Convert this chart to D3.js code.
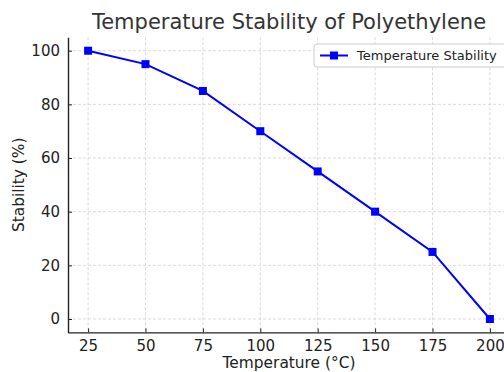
<!DOCTYPE html>
<html><head><meta charset="utf-8">
<script src="https://cdn.jsdelivr.net/npm/d3@7"></script>
<style>body{margin:0;background:#fff}svg{display:block;font-family:"DejaVu Sans",sans-serif}</style>
</head><body><svg id="c" width="504" height="372"></svg>
<script>
const temperatures = [25, 50, 75, 100, 125, 150, 175, 200];
const stability = [100, 95, 85, 70, 55, 40, 25, 0];
const xTicks = [25, 50, 75, 100, 125, 150, 175, 200];
const yTicks = [0, 20, 40, 60, 80, 100];
const seriesName = "Temperature Stability";

const svg = d3.select("#c");
const L = 68, R = 510, T = 37.3, B = 332.4;
const x = d3.scaleLinear().domain([16.25, 208.75]).range([L, R]);
const y = d3.scaleLinear().domain([-5, 105]).range([B, T]);

// grid
svg.append("g").selectAll("line").data(xTicks).join("line")
  .attr("x1", d => x(d)).attr("x2", d => x(d)).attr("y1", T).attr("y2", B)
  .attr("stroke", "#d0d0d0").attr("stroke-width", 0.8).attr("stroke-dasharray", "3,2");
svg.append("g").selectAll("line").data(yTicks).join("line")
  .attr("y1", d => y(d)).attr("y2", d => y(d)).attr("x1", L).attr("x2", R)
  .attr("stroke", "#d0d0d0").attr("stroke-width", 0.8).attr("stroke-dasharray", "3,2");

// axes
const xAxis = svg.append("g").attr("transform", `translate(0,${B})`)
  .call(d3.axisBottom(x).tickValues(xTicks).tickSizeInner(-4).tickSizeOuter(0).tickPadding(8));
const yAxis = svg.append("g").attr("transform", `translate(${L},0)`)
  .call(d3.axisLeft(y).tickValues(yTicks).tickSizeInner(-4).tickSizeOuter(0).tickPadding(8));
[xAxis, yAxis].forEach(g => {
  g.select(".domain").attr("stroke", "#222").attr("stroke-width", 1.4);
  g.selectAll(".tick line").attr("stroke", "#222").attr("stroke-width", 1);
  g.selectAll(".tick text").attr("fill", "#222").attr("font-size", 15).attr("font-family", "DejaVu Sans");
});

// line
svg.append("path").datum(temperatures.map((t, i) => [t, stability[i]]))
  .attr("fill", "none").attr("stroke", "#0000ff").attr("stroke-width", 2)
  .attr("d", d3.line().x(d => x(d[0])).y(d => y(d[1])));
svg.append("g").selectAll("rect").data(temperatures.map((t, i) => [t, stability[i]])).join("rect")
  .attr("x", d => x(d[0]) - 4).attr("y", d => y(d[1]) - 4).attr("width", 8).attr("height", 8)
  .attr("fill", "#0000ff");

// title & labels
svg.append("text").attr("x", (L + R) / 2).attr("y", 29).attr("text-anchor", "middle")
  .attr("font-size", 21).attr("fill", "#333").text("Temperature Stability of Polyethylene");
svg.append("text").attr("x", (L + R) / 2).attr("y", 368).attr("text-anchor", "middle")
  .attr("font-size", 15.4).attr("fill", "#222").text("Temperature (°C)");
svg.append("text").attr("transform", `translate(24,${(T + B) / 2}) rotate(-90)`).attr("text-anchor", "middle")
  .attr("font-size", 15.4).attr("fill", "#222").text("Stability (%)");

// legend
const lg = svg.append("g").attr("transform", "translate(314,44)");
lg.append("rect").attr("width", 200).attr("height", 23).attr("rx", 3)
  .attr("fill", "#fff").attr("fill-opacity", 0.85).attr("stroke", "#ccc");
lg.append("line").attr("x1", 6).attr("x2", 34).attr("y1", 11.5).attr("y2", 11.5)
  .attr("stroke", "#0000ff").attr("stroke-width", 2);
lg.append("rect").attr("x", 16).attr("y", 7.5).attr("width", 8).attr("height", 8).attr("fill", "#0000ff");
lg.append("text").attr("x", 43).attr("y", 16).attr("font-size", 13).attr("fill", "#222").text(seriesName);
</script></body></html>
